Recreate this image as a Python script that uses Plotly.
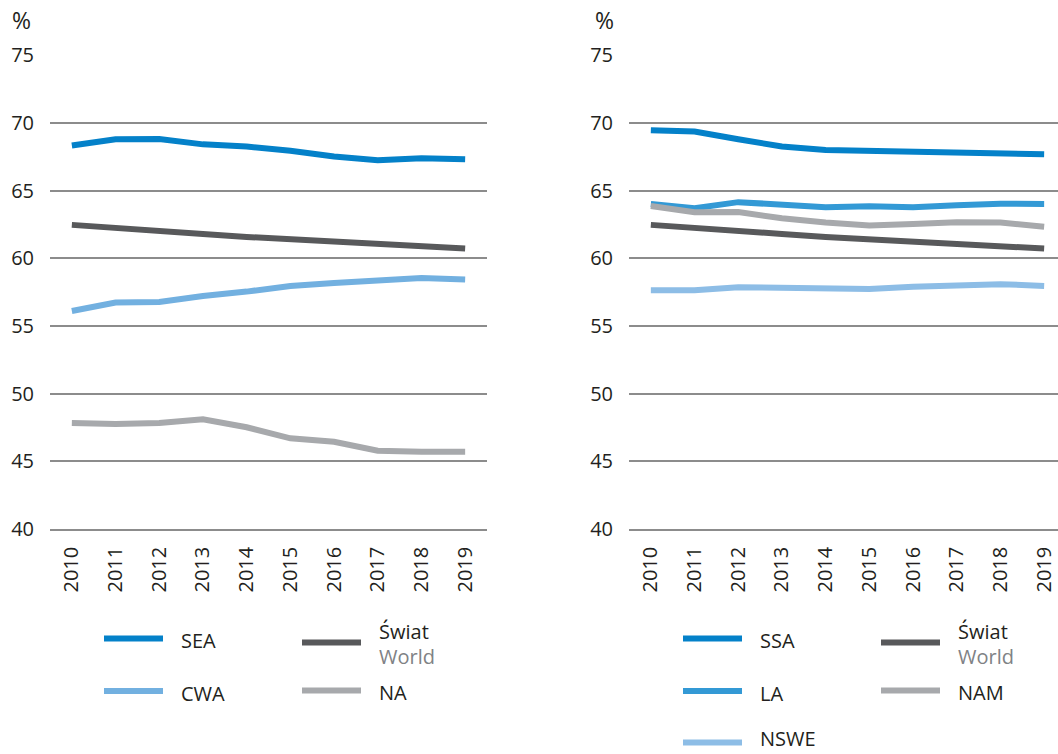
import plotly.graph_objects as go

W, H = 1058, 754

years = ["2010", "2011", "2012", "2013", "2014", "2015", "2016", "2017", "2018", "2019"]

# left panel series (%)
sea = [68.33, 68.80, 68.82, 68.42, 68.26, 67.95, 67.52, 67.25, 67.40, 67.32]
world = [62.47, 62.22, 62.02, 61.80, 61.58, 61.43, 61.23, 61.09, 60.94, 60.72]
cwa = [56.11, 56.73, 56.78, 57.22, 57.54, 57.96, 58.18, 58.40, 58.55, 58.44]
na = [47.83, 47.76, 47.83, 48.10, 47.52, 46.70, 46.45, 45.78, 45.70, 45.70]

# right panel series (%)
ssa = [69.47, 69.37, 68.80, 68.26, 68.01, 67.94, 67.81, 67.81, 67.72, 67.69]
la = [64.02, 63.70, 64.15, 63.97, 63.78, 63.85, 63.78, 63.92, 64.04, 64.02]
nam = [63.87, 63.40, 63.42, 62.96, 62.64, 62.42, 62.54, 62.67, 62.64, 62.34]
nswe = [57.64, 57.64, 57.86, 57.81, 57.79, 57.74, 57.89, 57.94, 58.09, 57.96]

y_ticks = [40, 45, 50, 55, 60, 65, 70, 75]

C_DARKBLUE = "#0481c9"
C_WORLD = "#58595b"
C_CWA = "#72b0e0"
C_GRAY = "#a7a9ac"
C_LA = "#3399d5"
C_NSWE = "#8dbde6"
C_TEXT = "#231f20"
C_SUB = "#808285"
C_GRID = "#8c8c8c"

FONT = "Open Sans"
FS = 20
LW = 6


def px(x):
    return x / W


def py(y):
    return 1 - y / H


left_series = [("SEA", sea, C_DARKBLUE), ("CWA", cwa, C_CWA), ("NA", na, C_GRAY), ("Świat", world, C_WORLD)]
right_series = [("SSA", ssa, C_DARKBLUE), ("LA", la, C_LA), ("NAM", nam, C_GRAY),
                ("Świat", world, C_WORLD), ("NSWE", nswe, C_NSWE)]

fig = go.Figure()
for name, vals, col in left_series:
    fig.add_trace(go.Scatter(x=years, y=vals, mode="lines", name=name, showlegend=False,
                             line=dict(color=col, width=LW), xaxis="x", yaxis="y"))
for name, vals, col in right_series:
    fig.add_trace(go.Scatter(x=years, y=vals, mode="lines", name=name, showlegend=False,
                             line=dict(color=col, width=LW), xaxis="x2", yaxis="y2"))

y_dom = [py(529), py(55.3)]
xcommon = dict(type="category", showgrid=False, zeroline=False, showline=True,
               linecolor=C_GRID, linewidth=1.5, ticks="", tickangle=-90,
               tickfont=dict(family=FONT, size=FS, color=C_TEXT),
               ticklabelstandoff=8, automargin=False, fixedrange=True)
ycommon = dict(range=[40, 75], tickvals=y_ticks, showgrid=True, gridcolor=C_GRID,
               gridwidth=1.5, zeroline=False, showline=False, ticks="",
               tickfont=dict(family=FONT, size=FS, color=C_TEXT),
               ticklabelstandoff=15, automargin=False, fixedrange=True, domain=y_dom)

fig.update_layout(
    width=W, height=H,
    margin=dict(l=0, r=0, t=0, b=0),
    paper_bgcolor="white", plot_bgcolor="white",
    xaxis=dict(xcommon, domain=[px(50), px(487)], range=[-0.5, 9.5], anchor="y"),
    yaxis=dict(ycommon, anchor="x"),
    xaxis2=dict(xcommon, domain=[px(629), 1.0], range=[-0.5, 9.317], anchor="y2"),
    yaxis2=dict(ycommon, anchor="x2"),
)

annotations = []
shapes = []

# unit labels
for xc in (21, 604):
    annotations.append(dict(x=px(xc), y=py(20), xref="paper", yref="paper", text="%",
                            showarrow=False, xanchor="center", yanchor="middle",
                            font=dict(family=FONT, size=23, color=C_TEXT)))


def legend_item(x0, y, label, color, sub=None, text_dy=2, anchor="middle"):
    shapes.append(dict(type="line", xref="paper", yref="paper",
                       x0=px(x0), x1=px(x0 + 59), y0=py(y), y1=py(y),
                       line=dict(color=color, width=LW)))
    if sub is None:
        annotations.append(dict(x=px(x0 + 75), y=py(y + text_dy), xref="paper", yref="paper",
                                text=label, showarrow=False, xanchor="left", yanchor=anchor,
                                font=dict(family=FONT, size=FS, color=C_TEXT)))
    else:
        annotations.append(dict(x=px(x0 + 75), y=py(y - 11), xref="paper", yref="paper",
                                text=label, showarrow=False, xanchor="left", yanchor="middle",
                                font=dict(family=FONT, size=FS, color=C_TEXT)))
        annotations.append(dict(x=px(x0 + 75), y=py(y + 14), xref="paper", yref="paper",
                                text=sub, showarrow=False, xanchor="left", yanchor="middle",
                                font=dict(family=FONT, size=FS, color=C_SUB)))


# left legend
legend_item(104, 638.5, "SEA", C_DARKBLUE)
legend_item(302, 642.5, "Świat", C_WORLD, sub="World")
legend_item(104, 691, "CWA", C_CWA)
legend_item(302, 690.5, "NA", C_GRAY)

# right legend
legend_item(683, 638.5, "SSA", C_DARKBLUE)
legend_item(881, 642.5, "Świat", C_WORLD, sub="World")
legend_item(683, 691, "LA", C_LA)
legend_item(881, 690.5, "NAM", C_GRAY)
legend_item(683, 742.5, "NSWE", C_NSWE, text_dy=11.5, anchor="bottom")

fig.update_layout(annotations=annotations, shapes=shapes)

fig.write_html("out.html")
